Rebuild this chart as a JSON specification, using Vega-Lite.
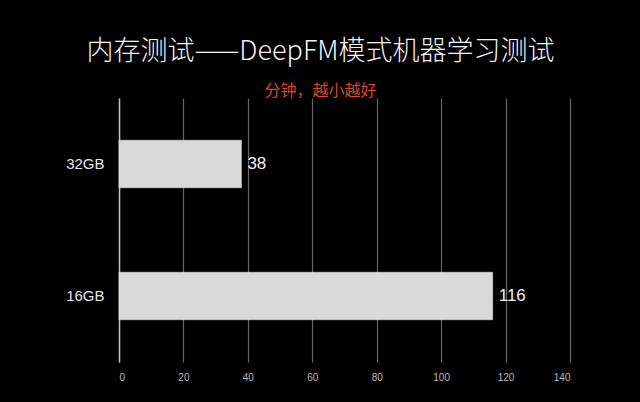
{
  "$schema": "https://vega.github.io/schema/vega-lite/v6.json",
  "autosize": "none",
  "width": 451,
  "height": 264,
  "padding": {"left": 119, "top": 98, "right": 70, "bottom": 40},
  "background": "black",
  "view": {"stroke": null},
  "title": {
    "text": "内存测试——DeepFM模式机器学习测试",
    "subtitle": "分钟，越小越好",
    "anchor": "middle",
    "dx": -24,
    "offset": -2,
    "font": "Noto Sans CJK SC",
    "fontSize": 27,
    "fontWeight": 300,
    "color": "#f2f2f2",
    "subtitleFont": "Noto Sans CJK SC",
    "subtitleFontSize": 16,
    "subtitleColor": "#d9452f",
    "subtitlePadding": 17
  },
  "data": {
    "values": [
      {"memory": "32GB", "minutes": 38},
      {"memory": "16GB", "minutes": 116}
    ]
  },
  "encoding": {
    "y": {
      "field": "memory",
      "type": "nominal",
      "sort": ["32GB", "16GB"],
      "scale": {"paddingInner": 0.64, "paddingOuter": 0.32},
      "axis": {
        "title": null,
        "ticks": false,
        "domain": true,
        "domainColor": "#bdbdbd",
        "domainWidth": 1.5,
        "labelColor": "#e6e6e6",
        "labelFont": "Liberation Sans",
        "labelFontSize": 15,
        "labelPadding": 15
      }
    },
    "x": {
      "field": "minutes",
      "type": "quantitative",
      "scale": {"domain": [0, 140], "nice": false},
      "axis": {
        "title": null,
        "values": [0, 20, 40, 60, 80, 100, 120, 140],
        "domain": false,
        "ticks": false,
        "grid": true,
        "gridColor": "#666666",
        "gridWidth": 1.2,
        "labelColor": "#bbbbbb",
        "labelFont": "Liberation Sans",
        "labelFontSize": 10,
        "labelPadding": 10
      }
    }
  },
  "layer": [
    {
      "mark": {"type": "bar", "color": "#d9d9d9", "stroke": "#eeeeee", "strokeWidth": 0.5}
    },
    {
      "mark": {
        "type": "text",
        "align": "left",
        "dx": 6,
        "color": "#f2f2f2",
        "font": "Liberation Sans",
        "fontSize": 17
      },
      "encoding": {"text": {"field": "minutes", "type": "quantitative"}}
    }
  ]
}
